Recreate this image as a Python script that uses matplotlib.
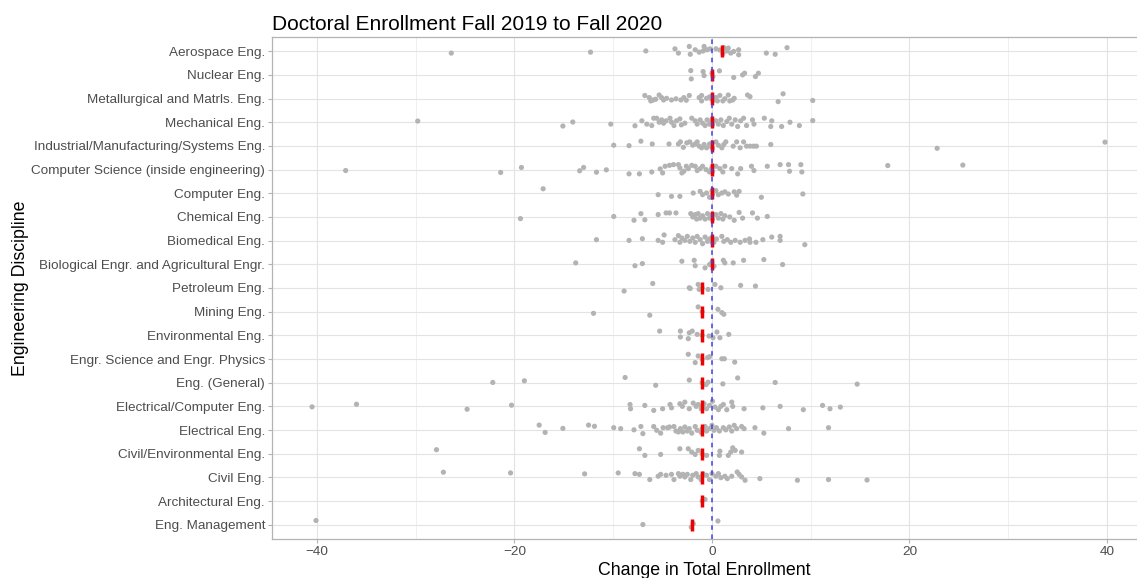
import numpy as np
import matplotlib.pyplot as plt

plt.rcParams['font.family'] = ['Liberation Sans', 'DejaVu Sans']

# categories, top to bottom
disciplines = [
    'Aerospace Eng.', 'Nuclear Eng.', 'Metallurgical and Matrls. Eng.', 'Mechanical Eng.',
    'Industrial/Manufacturing/Systems Eng.', 'Computer Science (inside engineering)',
    'Computer Eng.', 'Chemical Eng.', 'Biomedical Eng.',
    'Biological Engr. and Agricultural Engr.', 'Petroleum Eng.', 'Mining Eng.',
    'Environmental Eng.', 'Engr. Science and Engr. Physics', 'Eng. (General)',
    'Electrical/Computer Eng.', 'Electrical Eng.', 'Civil/Environmental Eng.',
    'Civil Eng.', 'Architectural Eng.', 'Eng. Management',
]

# median change per discipline (red marks)
medians = [1, 0, 0, 0, 0, 0, 0, 0, 0, 0, -1, -1, -1, -1, -1, -1, -1, -1, -1, -1, -2]

# change in enrollment per institution (jittered as plotted) and vertical jitter
aero_x = [-26.4, -12.3, -6.7, -3.75, -3.4, -2.3, -2.2, -1.7, -1.3, -0.9, -0.8, -0.5, -0.2, 0.4,
          0.8, 1.1, 1.2, 1.5, 1.65, 1.9, 2.2, 2.7, 2.7, 5.5, 6.4, 7.6]
aero_j = [-0.08, -0.04, 0.01, 0.10, -0.08, 0.20, -0.13, 0.06, -0.04, 0.01, 0.20, 0.06, 0.10, 0.10,
          0.05, -0.10, 0.15, 0.01, 0.13, -0.08, -0.01, 0.06, -0.15, -0.08, -0.13, 0.15]

nuc_x = [-2.15, -2.1, -0.9, -0.8, 0.0, 0.1, 0.75, 2.2, 3.1, 3.3, 4.4, 4.7]
nuc_j = [0.18, -0.17, 0.14, -0.03, 0.07, -0.07, 0.17, -0.11, 0.0, 0.07, -0.07, 0.07]

met_x = [-6.8, -6.35, -6.2, -5.95, -5.7, -5.35, -5.1, -4.9, -4.6, -4.1, -3.65, -3.15, -2.85,
         -2.6, -2.3, -1.3, -1.05, -1.05, -0.55, -0.25, 0.0, 0.1, -0.1, 0.4, 0.55, 0.8, 1.1,
         1.3, 1.65, 1.8, 2.1, 2.25, 3.6, 3.85, 6.7, 7.2, 10.2]
met_j = [0.13, 0.04, -0.10, -0.06, -0.03, 0.15, 0.04, -0.06, 0.01, -0.06, -0.01, -0.06, 0.04,
         -0.07, 0.13, 0.04, 0.13, -0.10, 0.01, 0.07, 0.10, -0.08, 0.0, 0.04, -0.10, 0.13, -0.10,
         -0.01, 0.15, -0.10, -0.06, 0.01, 0.15, 0.08, -0.13, 0.20, -0.08]

mech_x = [-29.8, -15.1, -14.1, -10.25, -7.8, -7.1, -6.6, -6.1, -5.9, -5.6, -5.35, -5.1, -4.9,
          -4.65, -4.25, -4.1, -3.85, -3.6, -3.25, -3.1, -2.75, -2.05, -1.7, -1.5, -1.2, -0.95,
          -0.7, -0.5, -0.25, 0.0, 0.05, -0.05, 0.4, 0.65, 0.9, 1.15, 1.5, 1.75, 2.0, 2.35, 2.6,
          2.9, 3.2, 3.5, 4.1, 4.25, 5.3, 6.05, 5.95, 7.05, 7.9, 8.85, 10.2]
mech_j = [0.05, -0.16, 0.01, -0.08, -0.15, 0.06, -0.08, -0.14, 0.17, 0.17, 0.0, 0.10, -0.04,
          0.06, 0.17, 0.0, -0.14, 0.06, 0.14, -0.11, -0.04, 0.17, 0.06, -0.08, 0.10, -0.04,
          -0.14, 0.10, -0.08, 0.12, -0.10, 0.02, 0.06, -0.08, 0.10, -0.14, 0.03, 0.17, -0.08,
          0.10, -0.18, 0.06, 0.17, -0.14, 0.10, -0.08, 0.17, 0.06, -0.18, -0.18, 0.0, -0.14, 0.07]

ind_x = [-9.95, -8.4, -7.2, -6.05, -4.35, -3.4, -3.2, -2.9, -2.55, -2.25, -1.95, -1.7, -1.5,
         -1.3, -1.05, -0.8, -0.55, -0.25, 0.0, 0.05, -0.1, 0.4, 0.65, 1.0, 1.2, 1.4, 2.15, 2.5,
         2.85, 3.2, 3.5, 3.85, 4.2, 4.5, 5.95, 22.8, 39.8]
ind_j = [0.03, 0.01, 0.20, 0.08, 0.08, 0.08, 0.17, -0.06, 0.13, 0.17, 0.03, 0.08, 0.17,
         -0.01, -0.08, 0.06, -0.08, 0.08, 0.10, -0.10, -0.02, 0.17, 0.03, -0.08, 0.06, 0.17,
         -0.01, 0.17, -0.08, 0.17, -0.01, -0.01, -0.01, -0.01, 0.06, -0.10, 0.16]

cs_x = [-37.1, -21.4, -19.3, -13.4, -13.0, -11.7, -10.7, -8.4, -7.35, -6.1, -5.25, -5.0, -4.75,
        -4.3, -3.9, -3.4, -3.25, -3.05, -2.85, -2.6, -2.4, -2.05, -1.7, -1.5, -1.2, -0.95, -0.6,
        -0.25, 0.0, 0.05, -0.05, 0.4, 0.8, 1.1, 1.3, 2.0, 2.6, 2.9, 4.0, 4.25, 5.6, 6.9, 7.75,
        7.85, 9.0, 9.1, 17.8, 25.4]
cs_j = [-0.04, -0.12, 0.09, -0.05, 0.09, -0.11, -0.01, -0.18, -0.18, -0.10, 0.03, -0.14, 0.14,
        0.18, 0.21, 0.21, 0.07, -0.14, -0.07, 0.14, 0.04, 0.18, 0.14, -0.04, 0.04, 0.14, 0.0,
        -0.10, 0.10, -0.08, 0.02, 0.14, 0.04, -0.10, 0.14, 0.04, -0.18, 0.04, 0.14, -0.04, 0.14,
        0.21, 0.21, -0.07, 0.21, -0.10, 0.17, 0.19]

ce_x = [-17.1, -5.45, -4.1, -3.25, -1.9, -1.2, -0.95, -0.55, -0.25, 0.0, 0.05, 0.4, 0.65, 1.0,
        1.3, 1.65, 2.25, 2.5, 2.75, 5.0, 9.2]
ce_j = [0.19, -0.06, -0.13, -0.13, 0.01, 0.08, -0.06, 0.01, -0.17, 0.10, -0.05, 0.11, -0.06,
        0.01, 0.06, -0.03, 0.06, -0.08, 0.08, -0.17, -0.03]

chem_x = [-19.4, -9.95, -7.9, -7.2, -6.8, -5.45, -4.65, -4.3, -3.65, -2.15, -1.95, -1.7, -1.55,
          -1.4, -1.2, -0.95, -0.7, -0.45, -0.25, 0.0, 0.05, 0.4, 0.65, 0.9, 1.1, 1.3, 1.8, 2.25,
          2.75, 3.1, 4.1, 4.6, 5.6]
chem_j = [-0.07, 0.02, -0.14, 0.14, -0.12, 0.10, 0.17, 0.17, 0.17, 0.14, 0.0, 0.10, -0.09,
          0.14, -0.05, 0.05, -0.09, 0.14, -0.05, 0.08, -0.10, 0.10, -0.05, 0.14, -0.09, 0.05,
          0.0, -0.14, 0.19, -0.05, 0.17, -0.05, 0.02]

bme_x = [-11.7, -8.4, -7.05, -5.45, -5.0, -4.85, -3.75, -3.4, -3.25, -3.05, -2.75, -2.5, -2.25,
         -1.95, -1.7, -1.5, -1.2, -0.95, -0.7, -0.45, -0.25, 0.0, 0.05, 0.2, 0.45, 1.0, 1.2,
         1.55, 1.9, 2.35, 2.85, 3.35, 3.8, 3.85, 4.45, 5.15, 6.05, 6.9, 6.9, 9.4]
bme_j = [0.04, 0.01, 0.08, 0.01, -0.07, 0.24, 0.04, 0.21, -0.07, 0.11, 0.01, 0.18, -0.03,
         0.11, -0.07, 0.18, 0.04, -0.13, 0.15, -0.03, 0.07, 0.12, -0.08, -0.07, 0.07, 0.18,
         -0.03, 0.04, -0.07, 0.01, -0.07, 0.01, 0.07, -0.07, -0.07, 0.04, 0.15, 0.18, 0.01, -0.17]

bio_x = [-13.8, -7.8, -7.05, -3.05, -1.8, -1.7, -0.7, -0.25, 0.0, 0.05, 0.2, 1.15, 1.3, 2.15,
         3.2, 5.25, 7.15]
bio_j = [0.06, -0.06, 0.03, 0.13, 0.17, -0.06, -0.15, -0.01, 0.10, -0.05, -0.08, 0.17, 0.06,
         0.06, 0.17, 0.20, -0.01]

pet_x = [-8.9, -6.0, -2.3, -2.2, -1.4, -1.3, -1.0, -0.4, 0.3, 0.9, 2.9, 4.4]
pet_j = [-0.13, 0.19, 0.01, -0.02, 0.15, -0.06, 0.0, -0.06, 0.15, 0.01, 0.11, 0.08]

min_x = [-12.0, -6.3, -1.4, -1.0, 0.6, 1.0, 1.2]
min_j = [-0.07, -0.15, 0.20, 0.0, 0.10, -0.04, -0.11]

env_x = [-5.3, -3.2, -3.2, -2.4, -2.3, -2.0, -1.5, -1.0, -0.3, 0.1, 0.5, 0.8, 1.7]
env_j = [0.18, 0.18, -0.07, -0.14, 0.11, 0.18, 0.04, 0.0, -0.03, -0.10, 0.14, -0.10, 0.04]

sci_x = [-2.4, -1.7, -1.4, -1.0, -0.45, -0.25, 1.0, 1.25, 2.3]
sci_j = [0.20, -0.15, 0.13, 0.0, 0.06, 0.10, 0.01, 0.01, -0.13]

gen_x = [-22.2, -19.0, -8.8, -5.7, -2.3, -1.0, -0.6, -0.4, 1.1, 2.6, 6.4, 14.7]
gen_j = [0.01, 0.08, 0.22, -0.11, 0.11, 0.0, -0.08, 0.02, -0.05, 0.20, 0.01, -0.06]

ec_x = [-40.5, -36.0, -24.8, -20.3, -8.3, -8.25, -6.8, -5.9, -5.0, -4.25, -4.1, -3.25, -3.0,
        -2.75, -2.3, -1.9, -1.6, -1.4, -1.0, -1.1, -0.8, -0.55, -0.25, 0.05, 0.3, 0.65, 0.9,
        1.15, 1.5, 2.0, 2.1, 3.25, 5.15, 6.9, 9.25, 11.2, 11.95, 13.0]
ec_j = [-0.02, 0.09, -0.12, 0.05, 0.08, -0.10, 0.04, -0.17, -0.10, 0.08, -0.06, 0.11, 0.0,
        0.18, -0.10, 0.14, 0.0, 0.08, 0.0, -0.10, 0.11, -0.10, 0.04, 0.22, -0.03, -0.14, 0.0,
        0.08, -0.14, 0.18, 0.0, -0.10, -0.06, 0.0, -0.14, 0.04, -0.10, -0.03]

ee_x = [-17.5, -16.9, -15.1, -12.5, -11.9, -9.95, -9.25, -7.9, -7.2, -7.0, -5.9, -5.6, -5.2,
        -4.95, -4.5, -4.3, -3.85, -3.65, -3.4, -3.2, -2.95, -2.75, -2.5, -2.3, -2.05, -1.7,
        -1.5, -1.0, -1.1, -0.7, -0.55, -0.25, 0.0, 0.2, 0.45, 0.75, 1.15, 1.4, 1.75, 2.0, 2.25,
        2.5, 3.0, 3.25, 4.35, 5.25, 7.75, 11.8]
ee_j = [0.21, -0.10, 0.07, 0.21, 0.16, 0.10, 0.06, 0.01, 0.15, -0.15, 0.15, -0.01, -0.13,
        0.10, 0.10, 0.13, 0.15, -0.04, -0.08, 0.06, -0.08, 0.13, -0.04, 0.06, -0.13, 0.15,
        -0.01, 0.05, -0.10, 0.15, -0.04, 0.06, 0.20, -0.01, 0.10, -0.04, 0.10, 0.01, 0.13,
        -0.04, 0.20, 0.06, 0.15, 0.06, 0.10, -0.13, 0.06, 0.10]

cenv_x = [-27.9, -7.35, -6.8, -5.2, -3.25, -2.4, -2.05, -1.7, -1.4, -1.0, -0.55, 0.75, 0.8,
          1.65, 1.9, 2.1, 2.35, 3.0]
cenv_j = [0.17, 0.21, -0.07, -0.03, 0.21, 0.21, 0.07, -0.03, 0.14, 0.0, -0.07, -0.07, 0.11,
          -0.07, 0.07, 0.25, 0.14, 0.07]

civ_x = [-27.2, -20.4, -12.9, -9.5, -7.8, -7.35, -6.3, -5.45, -5.2, -4.65, -4.1, -3.85, -3.4,
         -3.25, -2.95, -2.75, -2.5, -2.15, -1.95, -1.6, -1.4, -1.0, -1.1, -0.9, -0.55, -0.25,
         0.0, 0.4, 0.65, 0.9, 1.3, 1.55, 2.0, 2.55, 2.75, 3.0, 3.35, 4.85, 8.65, 11.8, 15.7]
civ_j = [0.22, 0.19, 0.15, 0.19, 0.16, 0.13, -0.09, 0.05, 0.13, 0.09, 0.13, -0.09, 0.16,
         0.05, 0.13, 0.02, 0.13, -0.09, 0.09, 0.16, 0.02, 0.05, -0.10, 0.15, 0.09, -0.09,
         0.16, 0.05, 0.16, -0.01, 0.05, -0.05, 0.05, 0.23, 0.13, 0.02, -0.12, -0.05, -0.12,
         -0.09, -0.11]

arch_x = [-1.0, -0.7]
arch_j = [0.0, 0.07]

mgmt_x = [-40.1, -7.0, -2.1, -1.9, 0.6]
mgmt_j = [0.18, 0.01, -0.10, 0.05, 0.16]

values = [aero_x, nuc_x, met_x, mech_x, ind_x, cs_x, ce_x, chem_x, bme_x, bio_x, pet_x,
          min_x, env_x, sci_x, gen_x, ec_x, ee_x, cenv_x, civ_x, arch_x, mgmt_x]
jitters = [aero_j, nuc_j, met_j, mech_j, ind_j, cs_j, ce_j, chem_j, bme_j, bio_j, pet_j,
           min_j, env_j, sci_j, gen_j, ec_j, ee_j, cenv_j, civ_j, arch_j, mgmt_j]

n = len(disciplines)
ypos = np.arange(n)[::-1]  # first discipline on top

fig = plt.figure(figsize=(11.37, 5.78), dpi=100)
ax = fig.add_axes([0.2392, 0.0675, 0.7608, 0.8685])

for y, xs, js in zip(ypos, values, jitters):
    ax.scatter(xs, y + np.array(js), s=14, color='#b3b3b3', edgecolors='none', zorder=3)

ax.vlines(medians, ypos - 0.26, ypos + 0.26, color='#ee0000', linewidth=2.5, zorder=4)
ax.axvline(0, color='#4040e0', linestyle=(0, (3, 3)), linewidth=1.1, zorder=5)

ax.set_xlim(-44.56, 43.04)
ax.set_ylim(-0.6, n - 0.4)
ax.set_yticks(ypos)
ax.set_yticklabels(disciplines)
ax.set_xticks([-40, -20, 0, 20, 40])
ax.set_xticks([-30, -10, 10, 30], minor=True)

ax.grid(True, which='major', color='#e3e3e3', linewidth=0.8, zorder=0)
ax.grid(True, which='minor', axis='x', color='#eeeeee', linewidth=0.6, zorder=0)
ax.set_axisbelow(True)

for side in ['left', 'top', 'bottom']:
    ax.spines[side].set_color('#b3b3b3')
    ax.spines[side].set_linewidth(0.9)
ax.spines['right'].set_visible(False)

ax.tick_params(axis='both', which='major', colors='#b3b3b3', labelcolor='#4d4d4d',
               labelsize=9.7, length=3, width=0.8, pad=2)
ax.tick_params(axis='x', which='minor', length=0)

ax.set_xlabel('Change in Total Enrollment', fontsize=12.8, labelpad=3)
ax.set_ylabel('Engineering Discipline', fontsize=12.8, labelpad=1.5)
ax.set_title('Doctoral Enrollment Fall 2019 to Fall 2020', loc='left', fontsize=15, pad=5)

fig.savefig('out.png', dpi=100)
